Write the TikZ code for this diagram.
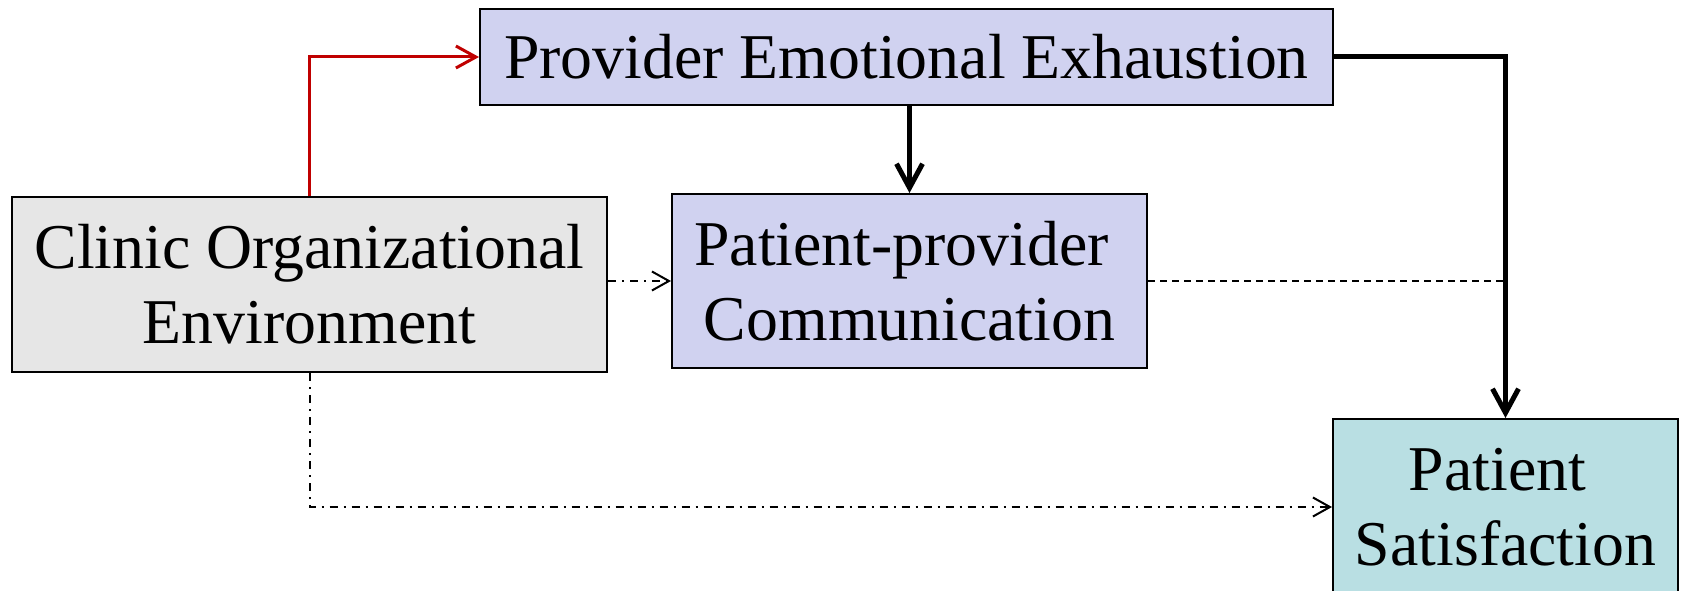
\documentclass[tikz,border=0pt]{standalone}
\usepackage{fontspec}
\setmainfont{Liberation Serif}
\usetikzlibrary{arrows.meta}
\definecolor{lav}{RGB}{208,210,240}
\definecolor{grayfill}{RGB}{230,230,230}
\definecolor{cyanfill}{RGB}{185,223,227}
\definecolor{darkred}{RGB}{192,0,0}
\tikzset{
  box/.style={draw=black, line width=2pt, inner sep=0pt, align=center,
    font=\fontsize{63.8}{75}\selectfont},
  redarrow/.style={draw=darkred, line width=3pt, -{Straight Barb[length=20pt,width=22pt,line width=3pt]}},
  thickarrow/.style={draw=black, line width=5pt, -{Straight Barb[length=24pt,width=26pt,line width=5pt]}},
  dashdotarrow/.style={draw=black, line width=2pt, dash pattern=on 8pt off 6pt on 2pt off 6pt,
    -{Straight Barb[length=17pt,width=19pt,line width=2pt]}},
  dashline/.style={draw=black, line width=2pt, dash pattern=on 7pt off 5pt}
}
\begin{document}
\begin{tikzpicture}[x=1pt,y=-1pt]
\useasboundingbox (0,0) rectangle (1681,591);
\node[box, fill=lav, minimum width=853pt, minimum height=96pt] (pee) at (906.5,57) {Provider Emotional Exhaustion};
\node[box, fill=grayfill, minimum width=595pt, minimum height=175pt] (clinic) at (309.5,284.5) {Clinic Organizational\\Environment};
\node[box, fill=lav, minimum width=475pt, minimum height=174pt] (pp) at (909.5,281) {Patient-provider\hspace*{0.25em}\\Communication};
\node[box, fill=cyanfill, minimum width=345pt, minimum height=176pt] (ps) at (1505.5,507) {Patient\hspace*{0.25em}\\Satisfaction};
\draw[redarrow] (clinic.north) |- (pee.west);
\draw[thickarrow] (pp.north |- pee.south) -- (pp.north);
\draw[thickarrow] (pee.east) -| (ps.north);
\draw[dashline] (pp.east) -- (pp.east -| ps.north);
\draw[dashdotarrow] (clinic.east |- pp.west) -- (pp.west);
\draw[dashdotarrow] (clinic.south) |- (ps.west);
\end{tikzpicture}
\end{document}
